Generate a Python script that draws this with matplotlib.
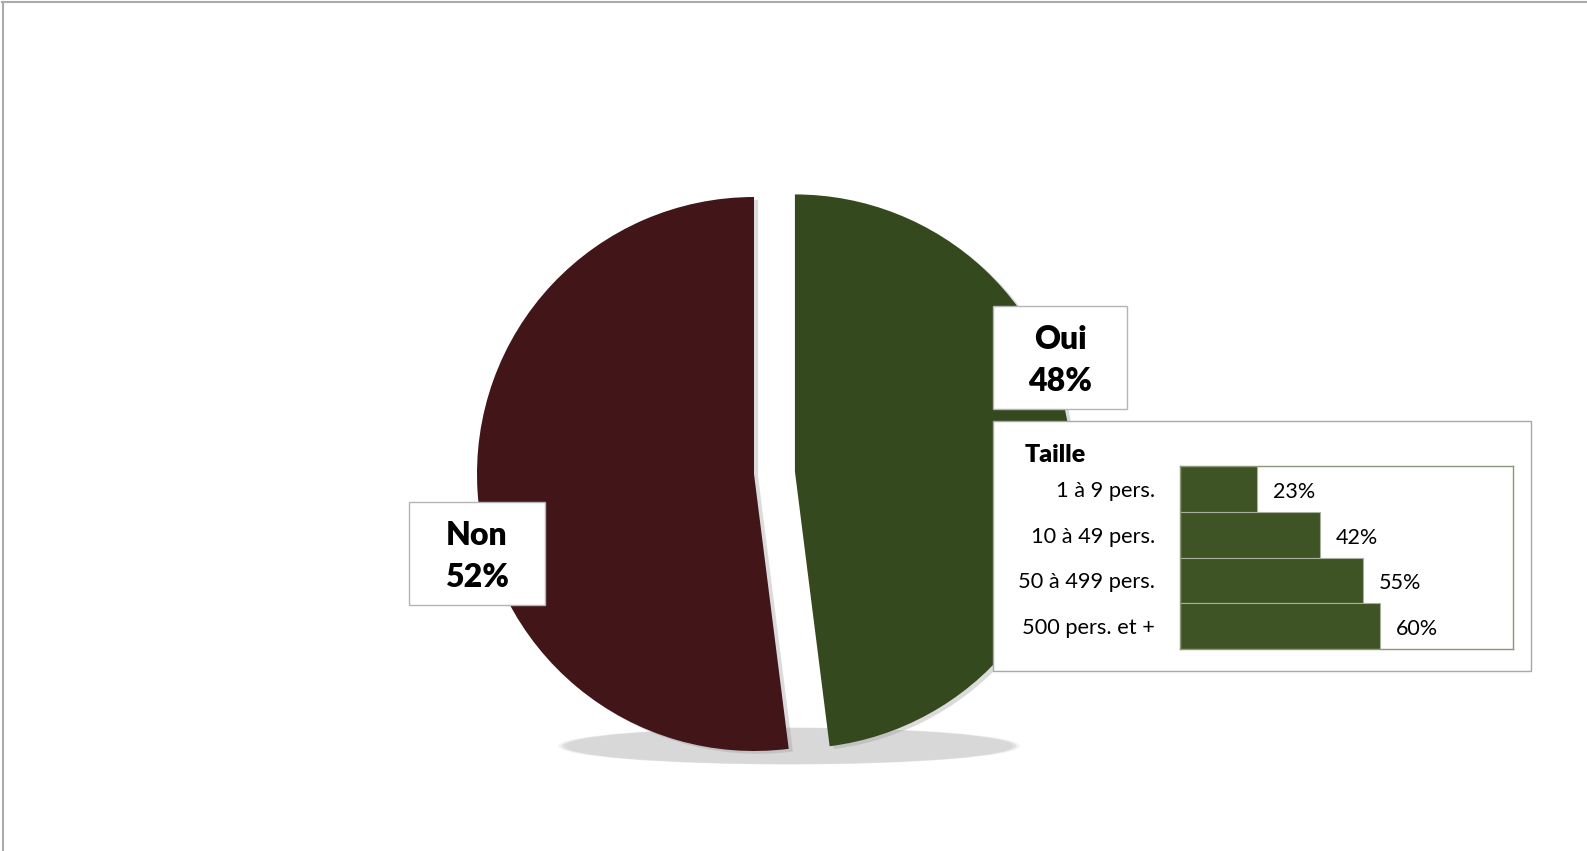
import matplotlib
matplotlib.use("Agg")
import matplotlib.pyplot as plt
from matplotlib.patches import Rectangle, Ellipse
from matplotlib.lines import Line2D
import matplotlib.patheffects as pe

plt.rcParams['font.family'] = ['Lato', 'DejaVu Sans']

# Answer split
answers = ["Oui", "Non"]
answer_share = [48, 52]

# Breakdown by company size
size_labels = ["1 à 9 pers.", "10 à 49 pers.", "50 à 499 pers.", "500 pers. et +"]
size_share = [23, 42, 55, 60]
size_title = "Taille"

W, H = 1587, 851
GREEN = "#34491e"
RED = "#421518"
BAR_GREEN = "#3f5425"


def Y(p):
    return H - p


fig = plt.figure(figsize=(W / 100, H / 100), dpi=100)
ax = fig.add_axes([0, 0, 1, 1])

# ground shadow under the pie
for k, a in [(1.03, 0.3), (1.015, 0.6), (1.0, 1.0)]:
    ax.add_patch(Ellipse((789, Y(746)), 448 * k, 36 * k, facecolor="#d8d8d8",
                         edgecolor="none", alpha=a, zorder=1))

# explode offset is given in data units (pixels here)
wedges, _ = ax.pie(answer_share, center=(754, Y(474)), radius=277, startangle=90,
                   counterclock=False, explode=[41, 0], colors=[GREEN, RED],
                   wedgeprops=dict(linewidth=0))
for w in wedges:
    w.set_zorder(2)
    w.set_path_effects([pe.SimplePatchShadow(offset=(3, -2), shadow_rgbFace="#9a9a9a", alpha=0.35),
                        pe.Normal()])

ax.set_xlim(0, W)
ax.set_ylim(0, H)
ax.set_aspect("auto")
ax.axis("off")

# data label boxes
boxes = {"Oui": (993, 306, 1127, 409), "Non": (409, 502, 545, 605)}
for name, share in zip(answers, answer_share):
    x0, y0, x1, y1 = boxes[name]
    ax.add_patch(Rectangle((x0, Y(y1)), x1 - x0, y1 - y0, facecolor="white",
                           edgecolor="#b4b4b4", linewidth=1, zorder=5))
    cx = (x0 + x1) / 2
    cy = (y0 + y1) / 2
    ax.text(cx, Y(cy - 18), name, ha="center", va="center", fontsize=23,
            fontweight="heavy", color="black", zorder=6)
    ax.text(cx, Y(cy + 24), f"{share}%", ha="center", va="center", fontsize=23,
            fontweight="heavy", color="black", zorder=6)

# inset frame
ax.add_patch(Rectangle((993, Y(671)), 1531 - 993, 671 - 421, facecolor="white",
                       edgecolor="#a8a8a8", linewidth=1, zorder=5))
ax.text(1025, Y(455), size_title, ha="left", va="center", fontsize=18,
        fontweight="heavy", color="black", zorder=6)

# inset bar chart
bx0, by0, bx1, by1 = 1180, 466, 1513, 649
bax = fig.add_axes([bx0 / W, (H - by1) / H, (bx1 - bx0) / W, (by1 - by0) / H], zorder=10)
pos = list(range(len(size_labels)))
bax.barh(pos, [v / 100 for v in size_share], height=1.0, color=BAR_GREEN,
         edgecolor="#a7b09c", linewidth=0.8)
bax.set_xlim(0, 1.0)
bax.set_ylim(len(size_labels) - 0.5, -0.5)
bax.set_xticks([])
bax.set_yticks(pos)
bax.set_yticklabels(size_labels, fontsize=15.7)
bax.tick_params(axis="y", length=0, pad=18)
for s in bax.spines.values():
    s.set_color("#8a9878")
    s.set_linewidth(1)
for p, v in zip(pos, size_share):
    bax.annotate(f"{v}%", (v / 100, p), xytext=(16, -3), textcoords="offset pixels",
                 ha="left", va="center", fontsize=15.5, color="black")

# outer frame lines (top and left)
fig.add_artist(Line2D([2 / W, 1], [1 - 1.5 / H, 1 - 1.5 / H], transform=fig.transFigure,
                      color="#aaaaaa", linewidth=1.5))
fig.add_artist(Line2D([2.5 / W, 2.5 / W], [0, 1 - 1.5 / H], transform=fig.transFigure,
                      color="#aaaaaa", linewidth=1.5))

fig.savefig("out.png", dpi=100)
